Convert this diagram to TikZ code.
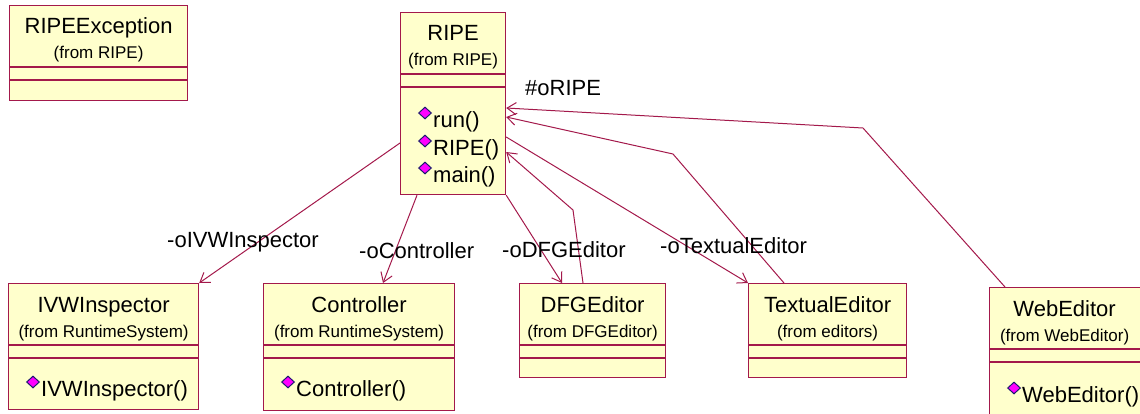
\documentclass[tikz,border=0pt]{standalone}
\usepackage{fontspec}
\setmainfont{Liberation Sans}
\usetikzlibrary{calc,arrows.meta,shapes.geometric}

\definecolor{umlred}{HTML}{A3194B}
\definecolor{umlfill}{HTML}{FFFFCC}
\definecolor{opfill}{HTML}{FF00FF}
\definecolor{opedge}{HTML}{1A1A6E}

\tikzset{
  classbox/.style={draw=umlred, fill=umlfill, line width=1.2pt, inner sep=0pt, anchor=north west},
  compline/.style={draw=umlred, line width=1.2pt},
  cname/.style={anchor=base, inner sep=0pt, font=\fontsize{22}{26}\selectfont},
  cfrom/.style={anchor=base, inner sep=0pt, font=\fontsize{17}{20}\selectfont},
  opname/.style={anchor=base west, inner sep=0pt, font=\fontsize{22}{26}\selectfont},
  opmark/.style={diamond, draw=opedge, fill=opfill, line width=1pt, inner sep=0pt,
    minimum width=13pt, minimum height=12pt},
  rolename/.style={anchor=base west, inner sep=0pt, font=\fontsize{22}{26}\selectfont},
  assoc/.style={draw=umlred, line width=1pt, -{Straight Barb[length=9pt,width=12pt]}}
}

\begin{document}
\begin{tikzpicture}[x=1pt,y=-1pt]
        \useasboundingbox (0,0) rectangle (1140,413);
        % class boxes
        \node[classbox, minimum width=178pt, minimum height=95pt] (exc) at (9,5) {};
        \node[classbox, minimum width=105pt, minimum height=182pt] (ripe) at (400,12) {};
        \node[classbox, minimum width=190pt, minimum height=126pt] (ivw) at (8,283) {};
        \node[classbox, minimum width=191pt, minimum height=127pt] (ctrl) at (263,283) {};
        \node[classbox, minimum width=146pt, minimum height=94pt] (dfg) at (519,283) {};
        \node[classbox, minimum width=158pt, minimum height=94pt] (text) at (748,283) {};
        \node[classbox, minimum width=160pt, minimum height=135pt] (web) at (989,287) {};
        % compartments
        \foreach \c in {exc,ripe,ivw,ctrl,dfg,text,web} {
          \draw[compline] ([yshift=-62pt]\c.north west) -- ([yshift=-62pt]\c.north east);
          \draw[compline] ([yshift=-75pt]\c.north west) -- ([yshift=-75pt]\c.north east);
        }
        % names
        \node[cname] (excname) at ([yshift=-28pt]exc.north) {RIPEException};
        \node[cfrom] (excfrom) at ([yshift=-53pt]exc.north) {(from RIPE)};
        \node[cname] (ripename) at ([yshift=-28pt]ripe.north) {RIPE};
        \node[cfrom] (ripefrom) at ([yshift=-53pt]ripe.north) {(from RIPE)};
        \node[cname] (ivwname) at ([yshift=-29pt]ivw.north) {IVWInspector};
        \node[cfrom] (ivwfrom) at ([yshift=-54pt]ivw.north) {(from RuntimeSystem)};
        \node[cname] (ctrlname) at ([yshift=-29pt]ctrl.north) {Controller};
        \node[cfrom] (ctrlfrom) at ([yshift=-54pt]ctrl.north) {(from RuntimeSystem)};
        \node[cname] (dfgname) at ([yshift=-29pt]dfg.north) {DFGEditor};
        \node[cfrom] (dfgfrom) at ([yshift=-54pt]dfg.north) {(from DFGEditor)};
        \node[cname] (textname) at ([yshift=-29pt]text.north) {TextualEditor};
        \node[cfrom] (textfrom) at ([yshift=-54pt]text.north) {(from editors)};
        \node[cname] (webname) at ([xshift=-5pt,yshift=-29pt]web.north) {WebEditor};
        \node[cfrom] (webfrom) at ([xshift=-5pt,yshift=-54pt]web.north) {(from WebEditor)};
        % operations
        \node[opmark] (runmark) at ([xshift=25pt,yshift=-101pt]ripe.north west) {};
        \node[opname] (run) at ([xshift=33pt,yshift=-115pt]ripe.north west) {run()};
        \node[opmark] (ripemark) at ([xshift=25pt,yshift=-129pt]ripe.north west) {};
        \node[opname] (ripeop) at ([xshift=33pt,yshift=-143pt]ripe.north west) {RIPE()};
        \node[opmark] (mainmark) at ([xshift=25pt,yshift=-156pt]ripe.north west) {};
        \node[opname] (main) at ([xshift=33pt,yshift=-170pt]ripe.north west) {main()};
        \node[opmark] (ivwmark) at ([xshift=25pt,yshift=-99pt]ivw.north west) {};
        \node[opname] (ivwop) at ([xshift=33pt,yshift=-113pt]ivw.north west) {IVWInspector()};
        \node[opmark] (ctrlmark) at ([xshift=25pt,yshift=-99pt]ctrl.north west) {};
        \node[opname] (ctrlop) at ([xshift=33pt,yshift=-113pt]ctrl.north west) {Controller()};
        \node[opmark] (webmark) at ([xshift=25pt,yshift=-101pt]web.north west) {};
        \node[opname] (webop) at ([xshift=33pt,yshift=-115pt]web.north west) {WebEditor()};
        % associations
        \coordinate (dfgbend) at (573,210);
        \coordinate (textbend) at (673,154);
        \coordinate (webbend) at (863,128);
        \draw[assoc] ([yshift=-131pt]ripe.north west) -- (ivw.north east);
        \draw[assoc] ([xshift=17pt]ripe.south west) -- ([xshift=120pt]ctrl.north west);
        \draw[assoc] (ripe.south east) -- ([xshift=43pt]dfg.north west);
        \draw[assoc] ([xshift=64pt]dfg.north west) -- (dfgbend) -- ([yshift=-140pt]ripe.north east);
        \draw[assoc] ([yshift=-125pt]ripe.north east) -- (text.north west);
        \draw[assoc] ([xshift=36pt]text.north west) -- (textbend) -- ([yshift=-105pt]ripe.north east);
        \draw[assoc] ([xshift=16pt]web.north west) -- (webbend) -- ([yshift=-96pt]ripe.north east);
        % role names
        \node[rolename] (ivwrole) at (167,247) {-oIVWInspector};
        \node[rolename] (ctrlrole) at (359,258) {-oController};
        \node[rolename] (dfgrole) at (502,257) {-oDFGEditor};
        \node[rolename] (textrole) at (660,253) {-oTextualEditor};
        \node[rolename] (riperole) at (525,95) {\#oRIPE};
      \end{tikzpicture}
\end{document}
